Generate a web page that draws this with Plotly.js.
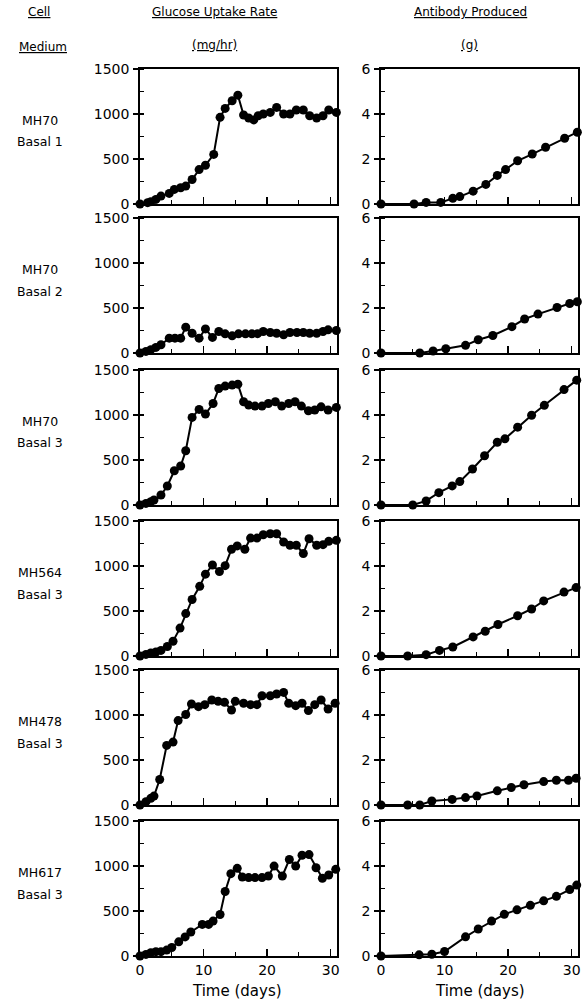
<!DOCTYPE html>
<html><head><meta charset="utf-8">
<script src="https://cdn.plot.ly/plotly-3.0.1.min.js"></script>
<style>html,body{margin:0;padding:0;background:#fff}</style>
</head><body><div id="chart" style="width:586px;height:1005px"></div>
<script>
// ---- data ----
const cellLines = ["MH70", "MH70", "MH70", "MH564", "MH478", "MH617"];
const media = ["Basal 1", "Basal 2", "Basal 3", "Basal 3", "Basal 3", "Basal 3"];

const glucDays1 = [0,1.2,1.7,2.5,3.3,4.6,5.4,6.4,7.2,8.2,9.3,10.3,11.6,12.6,13.4,14.5,15.4,16.3,17.1,17.9,18.6,19.4,20.5,21.5,22.6,23.6,24.6,25.7,26.7,27.8,28.8,29.7,30.9];
const glucRate1 = [0,15,26,51,88,118,162,180,199,272,382,430,551,963,1062,1147,1209,989,956,934,981,1000,1018,1073,1000,1000,1044,1044,981,956,981,1044,1018];

const glucDays2 = [0,0.94,1.7,2.5,3.3,4.6,5.5,6.4,7.2,8.2,9.3,10.3,11.4,12.4,13.4,14.5,15.5,16.6,17.6,18.5,19.4,20.5,21.5,22.6,23.6,24.7,25.7,26.7,27.8,28.8,29.6,30.9];
const glucRate2 = [0,18,37,62,92,165,165,165,287,220,165,268,173,239,213,191,213,213,213,215,239,228,220,202,228,228,228,220,220,239,257,250];

const glucDays3 = [0,0.94,1.7,2.2,3.3,4.3,5.4,6.4,7.2,8.2,9.3,10.3,11.5,12.4,13.4,14.5,15.4,16.3,17.1,18.1,19.2,20.2,21.3,22.3,23.4,24.4,25.4,26.5,27.5,28.5,29.6,30.9];
const glucRate3 = [0,18,37,55,111,211,381,433,603,973,1062,1010,1128,1295,1321,1332,1343,1147,1110,1099,1099,1128,1147,1099,1128,1147,1099,1047,1055,1091,1055,1084];

const glucDays4 = [0,0.94,1.7,2.5,3.3,4.3,5.2,6.3,7.2,8.2,9.4,10.3,11.4,12.5,13.4,14.4,15.3,16.5,17.4,18.4,19.4,20.5,21.5,22.6,23.6,24.6,25.7,26.6,27.8,28.8,29.7,30.9];
const glucRate4 = [0,18,33,44,62,106,164,310,471,628,774,909,1011,938,1004,1186,1223,1186,1310,1310,1347,1358,1358,1267,1230,1230,1139,1303,1230,1237,1274,1285];

const glucDays5 = [0,0.94,1.7,2.2,3.1,4.2,5.2,6.0,7.2,8.1,9.2,10.2,11.3,12.3,13.3,14.4,15.0,16.3,17.4,18.4,19.2,20.5,21.5,22.6,23.4,24.5,25.5,26.5,27.5,28.5,29.6,30.7];
const glucRate5 = [0,37,74,99,283,662,699,938,1005,1122,1093,1115,1167,1152,1141,1056,1152,1130,1115,1115,1214,1214,1233,1251,1130,1104,1130,1049,1115,1167,1067,1130];

const glucDays6 = [0,0.94,1.7,2.5,3.3,4.2,5.0,6.1,7.1,8.0,9.8,10.8,11.5,12.6,13.4,14.3,15.3,16.1,17.1,18.1,19.2,20.2,21.1,22.4,23.5,24.5,25.5,26.6,27.7,28.7,29.7,30.8];
const glucRate6 = [0,18,37,48,48,66,95,157,212,267,351,351,388,461,717,915,974,878,871,871,871,889,999,889,1072,999,1120,1127,981,864,900,963];

const abDays1 = [0,5.2,7.1,9.4,11.3,12.4,14.5,16.5,18.3,19.6,21.5,23.8,25.9,28.9,30.9];
const abGrams1 = [0,0,0.07,0.07,0.25,0.33,0.57,0.87,1.27,1.53,1.92,2.22,2.52,2.92,3.19];

const abDays2 = [0,6.1,8.2,10.2,13.3,15.3,17.6,20.6,22.6,24.7,27.7,29.7,30.9];
const abGrams2 = [0,0,0.09,0.19,0.34,0.59,0.78,1.17,1.51,1.73,2.02,2.2,2.28];

const abDays3 = [0,5.0,7.1,9.1,11.2,12.4,14.4,16.3,18.3,19.5,21.5,23.7,25.7,28.8,30.8];
const abGrams3 = [0,0,0.18,0.55,0.85,1.04,1.6,2.19,2.79,2.94,3.46,3.99,4.43,5.13,5.55];

const abDays4 = [0,4.2,7.1,9.2,11.3,14.5,16.4,18.4,21.5,23.7,25.6,28.8,30.7];
const abGrams4 = [0,0,0.06,0.25,0.4,0.85,1.1,1.4,1.79,2.09,2.45,2.84,3.04];

const abDays5 = [0,4.2,6.1,8.0,11.2,13.3,15.1,18.3,20.5,22.5,25.6,27.6,29.5,30.7];
const abGrams5 = [0,0,0,0.18,0.25,0.33,0.4,0.63,0.78,0.9,1.04,1.1,1.1,1.19];

const abDays6 = [0,6,8,10,13.3,15.3,17.4,19.4,21.4,23.5,25.6,27.6,29.7,30.8];
const abGrams6 = [0,0.05,0.08,0.2,0.85,1.2,1.55,1.85,2.05,2.25,2.45,2.65,2.95,3.15];

const glucDays = [glucDays1,glucDays2,glucDays3,glucDays4,glucDays5,glucDays6];
const glucRates = [glucRate1,glucRate2,glucRate3,glucRate4,glucRate5,glucRate6];
const abDays = [abDays1,abDays2,abDays3,abDays4,abDays5,abDays6];
const abGrams = [abGrams1,abGrams2,abGrams3,abGrams4,abGrams5,abGrams6];

const xTickVals = [0,10,20,30];
const glucTickVals = [0,500,1000,1500];
const abTickVals = [0,2,4,6];

// ---- layout geometry (pixels) ----
const W = 586, H = 1005;
const rowBottoms = [204, 353, 505, 656, 805, 956];
const plotH = 135;
const leftCol = [140, 337], rightCol = [381, 578];
const px = x => x / W, py = y => 1 - y / H;

const FONT = "DejaVu Sans, Verdana, sans-serif";
const traces = [];
const layout = {
  width: W, height: H,
  margin: {l:0, r:0, t:0, b:0},
  paper_bgcolor: "#fff", plot_bgcolor: "#fff",
  showlegend: false,
  font: {family: FONT, size: 14, color: "#000"},
  annotations: []
};

function xAxis(dom, anchor, last) {
  return {
    domain: [px(dom[0]), px(dom[1])], anchor: anchor,
    range: [0, 31], showgrid: false, zeroline: false,
    showline: true, linecolor: "#000", linewidth: 1.8, mirror: true,
    ticks: "inside", ticklen: 7, tickwidth: 1.4, tickcolor: "#000",
    tickvals: xTickVals, showticklabels: last,
    tickfont: {family: FONT, size: 14, color: "#000"},
    minor: {ticks: "inside", dtick: 5, ticklen: 4, tickwidth: 1.2, tickcolor: "#000"},
    fixedrange: true
  };
}
function yAxis(top, bottom, anchor, range, tv, minorD) {
  return {
    domain: [py(bottom), py(top)], anchor: anchor,
    range: range, showgrid: false, zeroline: false,
    showline: true, linecolor: "#000", linewidth: 1.8, mirror: true,
    ticks: "outside", ticklen: 5, tickwidth: 1.4, tickcolor: "#000",
    tickvals: tv, ticklabelstandoff: 1,
    tickfont: {family: FONT, size: 14, color: "#000"},
    minor: {ticks: "inside", dtick: minorD, ticklen: 4, tickwidth: 1.2, tickcolor: "#000"},
    fixedrange: true
  };
}

for (let r = 0; r < 6; r++) {
  const b = rowBottoms[r], t = b - plotH;
  const nL = 2*r + 1, nR = 2*r + 2;
  const last = r === 5;
  layout["xaxis" + nL] = xAxis(leftCol, "y" + nL, last);
  layout["yaxis" + nL] = yAxis(t, b, "x" + nL, [0, 1500], glucTickVals, 250);
  layout["xaxis" + nR] = xAxis(rightCol, "y" + nR, last);
  layout["yaxis" + nR] = yAxis(t, b, "x" + nR, [0, 6], abTickVals, 1);
  const style = {mode: "lines+markers", cliponaxis: false,
    line: {color: "#000", width: 2},
    marker: {color: "#000", size: 9}};
  traces.push(Object.assign({x: glucDays[r], y: glucRates[r], xaxis: "x" + nL, yaxis: "y" + nL}, style));
  traces.push(Object.assign({x: abDays[r], y: abGrams[r], xaxis: "x" + nR, yaxis: "y" + nR}, style));

  const c = b - 73;
  layout.annotations.push({xref:"paper", yref:"paper", x: px(40), y: py(c - 11), text: cellLines[r],
    showarrow:false, xanchor:"center", yanchor:"middle", font:{family:FONT, size:12.5, color:"#000"}});
  layout.annotations.push({xref:"paper", yref:"paper", x: px(40), y: py(c + 11), text: media[r],
    showarrow:false, xanchor:"center", yanchor:"middle", font:{family:FONT, size:12.5, color:"#000"}});
}

function hdr(text, x, y) {
  layout.annotations.push({xref:"paper", yref:"paper", x: px(x), y: py(y), text: "<u>" + text + "</u>",
    showarrow:false, xanchor:"center", yanchor:"middle", font:{family:FONT, size:12, color:"#000"}});
}
hdr("Cell", 39, 12);
hdr("Medium", 43, 47);
hdr("Glucose Uptake Rate", 214, 12);
hdr("(mg/hr)", 214, 45);
hdr("Antibody Produced", 470, 12);
hdr("(g)", 469, 45);

function xt(text, x, y) {
  layout.annotations.push({xref:"paper", yref:"paper", x: px(x), y: py(y), text: text,
    showarrow:false, xanchor:"center", yanchor:"middle", font:{family:FONT, size:15, color:"#000"}});
}
xt("Time (days)", 237, 991);
xt("Time (days)", 480, 991);

Plotly.newPlot("chart", traces, layout, {staticPlot: true, displayModeBar: false});
</script>
</body></html>
